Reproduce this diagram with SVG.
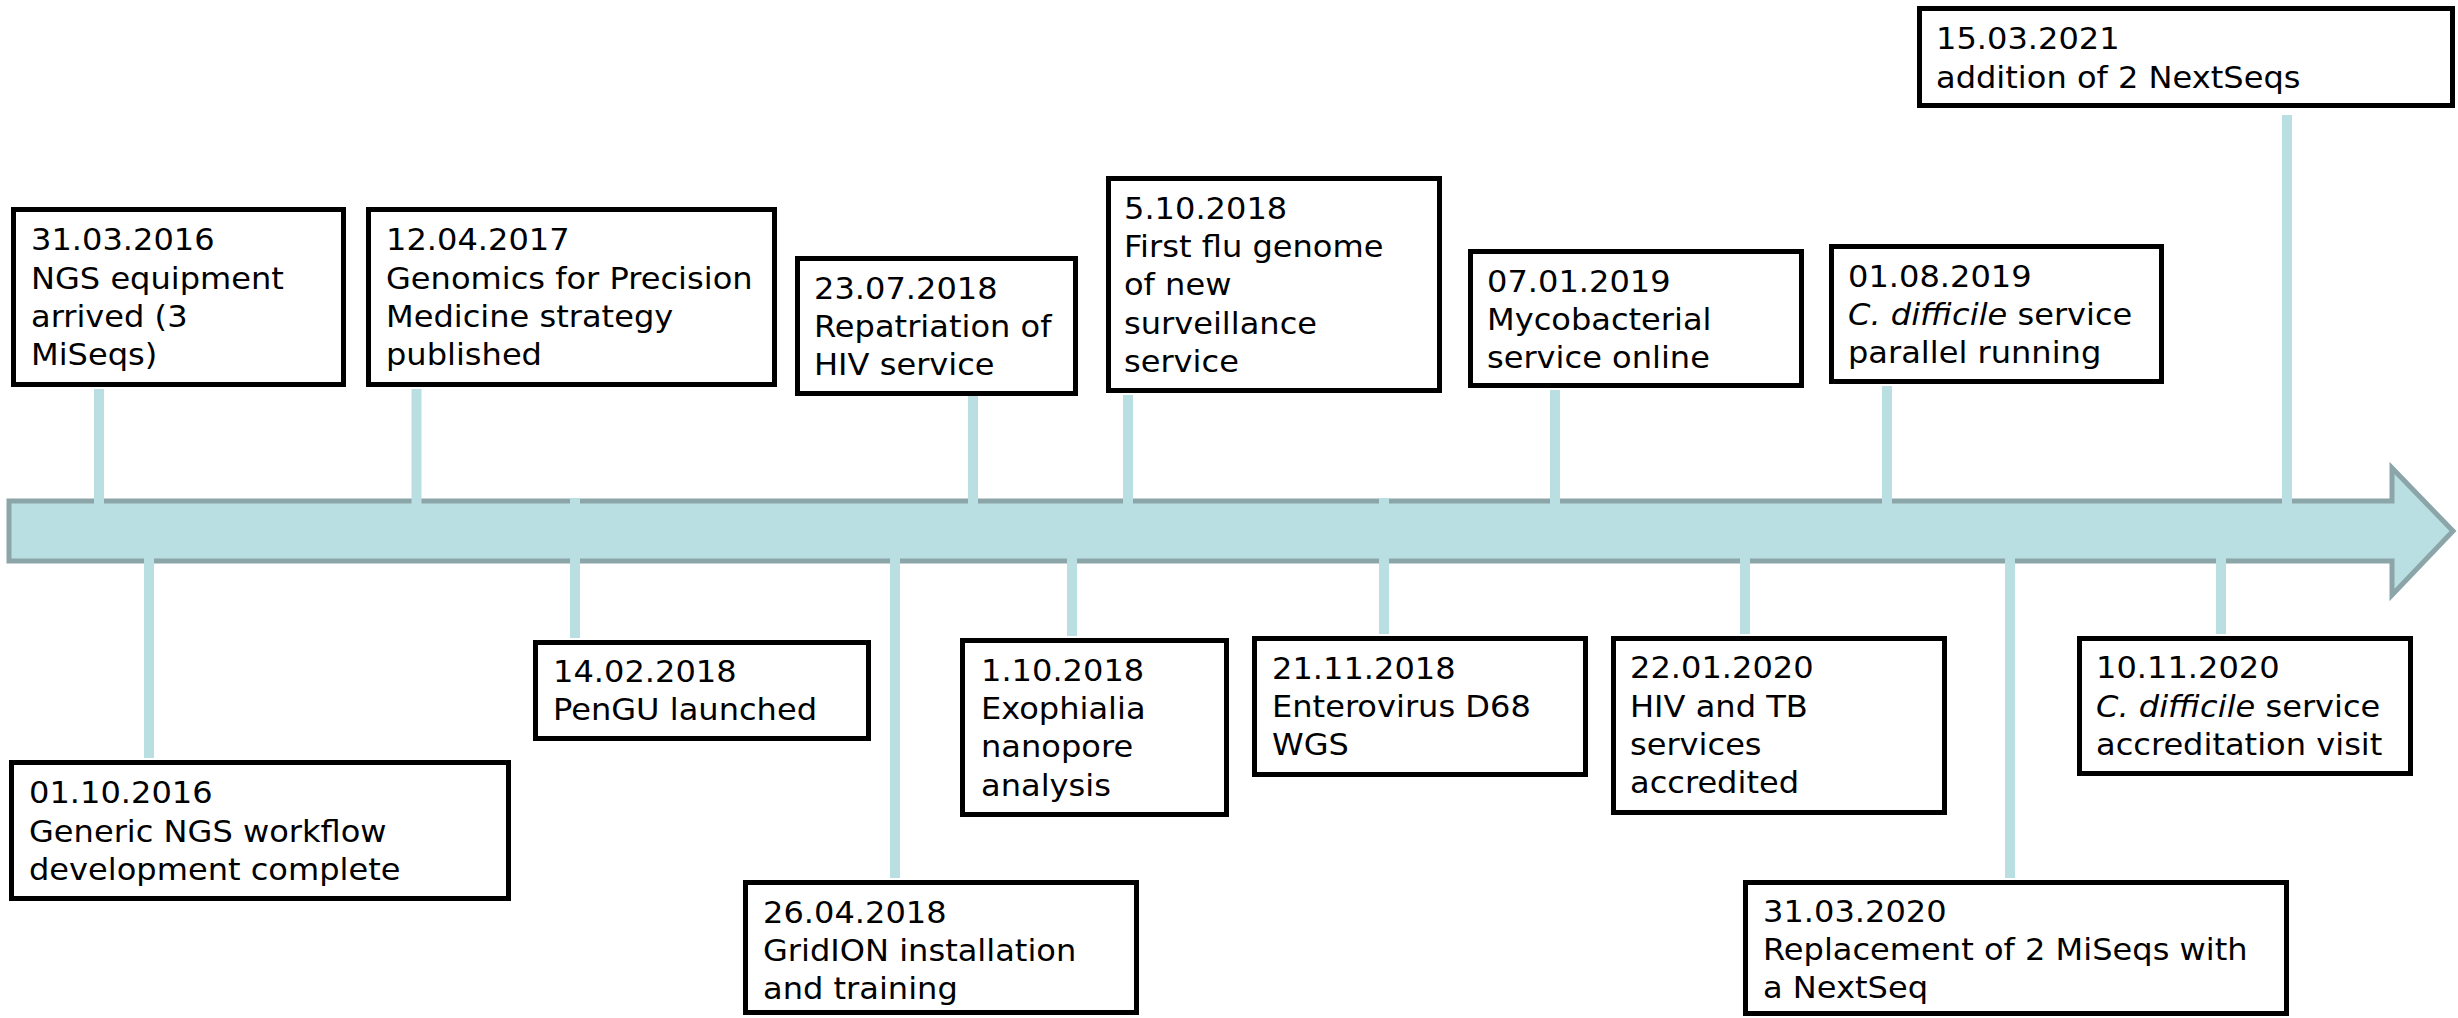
<svg xmlns="http://www.w3.org/2000/svg" width="2458" height="1018" viewBox="0 0 2458 1018">
<style>
.box{fill:#fff;stroke:#000;stroke-width:5}
.t{font-family:"DejaVu Sans",Verdana,sans-serif;font-size:31px;fill:#000}
.i{font-style:italic}
.c{stroke:#B9DFE2;stroke-width:10;fill:none}
.arrow{fill:#B9DFE2;stroke:#8BA5A8;stroke-width:5}
</style>
<rect width="2458" height="1018" fill="#fff"/>
<path class="arrow" d="M9,501 L2392,501 L2392,468 L2453,531 L2392,595 L2392,561 L9,561 Z"/>
<g id="connectors">
<line class="c" x1="99" y1="389" x2="99" y2="504"/>
<line class="c" x1="416.5" y1="389" x2="416.5" y2="504"/>
<line class="c" x1="973" y1="394" x2="973" y2="504"/>
<line class="c" x1="1128" y1="395" x2="1128" y2="504"/>
<line class="c" x1="1555" y1="390" x2="1555" y2="504"/>
<line class="c" x1="1887" y1="386" x2="1887" y2="504"/>
<line class="c" x1="2287" y1="115" x2="2287" y2="504"/>
<line class="c" x1="149" y1="557" x2="149" y2="758"/>
<line class="c" x1="575" y1="498" x2="575" y2="638"/>
<line class="c" x1="895" y1="557" x2="895" y2="878"/>
<line class="c" x1="1072" y1="557" x2="1072" y2="636"/>
<line class="c" x1="1384" y1="498" x2="1384" y2="634"/>
<line class="c" x1="1745" y1="557" x2="1745" y2="634"/>
<line class="c" x1="2010" y1="557" x2="2010" y2="878"/>
<line class="c" x1="2221" y1="557" x2="2221" y2="634"/>
</g>
<g id="n1"><rect class="box" x="13.5" y="209.5" width="330" height="175"/>
<text class="t" transform="translate(31,0) scale(1.035,1)" y="250.5"><tspan x="0">31.03.2016</tspan><tspan x="0" dy="38.2">NGS equipment</tspan><tspan x="0" dy="38.2">arrived (3</tspan><tspan x="0" dy="38.2">MiSeqs)</tspan></text></g>
<g id="n2"><rect class="box" x="368.5" y="209.5" width="406" height="175"/>
<text class="t" transform="translate(386,0) scale(1.035,1)" y="250.5"><tspan x="0">12.04.2017</tspan><tspan x="0" dy="38.2">Genomics for Precision</tspan><tspan x="0" dy="38.2">Medicine strategy</tspan><tspan x="0" dy="38.2">published</tspan></text></g>
<g id="n3"><rect class="box" x="797.5" y="258.5" width="278" height="135"/>
<text class="t" transform="translate(814,0) scale(1.035,1)" y="299"><tspan x="0">23.07.2018</tspan><tspan x="0" dy="38.2">Repatriation of</tspan><tspan x="0" dy="38.2">HIV service</tspan></text></g>
<g id="n4"><rect class="box" x="1108.5" y="178.5" width="331" height="212"/>
<text class="t" transform="translate(1124,0) scale(1.035,1)" y="219"><tspan x="0">5.10.2018</tspan><tspan x="0" dy="38.2">First flu genome</tspan><tspan x="0" dy="38.2">of new</tspan><tspan x="0" dy="38.2">surveillance</tspan><tspan x="0" dy="38.2">service</tspan></text></g>
<g id="n5"><rect class="box" x="1470.5" y="251.5" width="331" height="134"/>
<text class="t" transform="translate(1487,0) scale(1.035,1)" y="292"><tspan x="0">07.01.2019</tspan><tspan x="0" dy="38.2">Mycobacterial</tspan><tspan x="0" dy="38.2">service online</tspan></text></g>
<g id="n6"><rect class="box" x="1831.5" y="246.5" width="330" height="135"/>
<text class="t" transform="translate(1848,0) scale(1.035,1)" y="287"><tspan x="0">01.08.2019</tspan><tspan x="0" dy="38.2"><tspan class="i">C. difficile</tspan> service</tspan><tspan x="0" dy="38.2">parallel running</tspan></text></g>
<g id="n7"><rect class="box" x="1919.5" y="8.5" width="533" height="97"/>
<text class="t" transform="translate(1936,0) scale(1.035,1)" y="49.5"><tspan x="0">15.03.2021</tspan><tspan x="0" dy="38.2">addition of 2 NextSeqs</tspan></text></g>
<g id="n8"><rect class="box" x="11.5" y="762.5" width="497" height="136"/>
<text class="t" transform="translate(29,0) scale(1.035,1)" y="803.5"><tspan x="0">01.10.2016</tspan><tspan x="0" dy="38.2">Generic NGS workflow</tspan><tspan x="0" dy="38.2">development complete</tspan></text></g>
<g id="n9"><rect class="box" x="535.5" y="642.5" width="333" height="96"/>
<text class="t" transform="translate(553,0) scale(1.035,1)" y="682"><tspan x="0">14.02.2018</tspan><tspan x="0" dy="38.2">PenGU launched</tspan></text></g>
<g id="n10"><rect class="box" x="745.5" y="882.5" width="391" height="130"/>
<text class="t" transform="translate(763,0) scale(1.035,1)" y="923"><tspan x="0">26.04.2018</tspan><tspan x="0" dy="38.2">GridION installation</tspan><tspan x="0" dy="38.2">and training</tspan></text></g>
<g id="n11"><rect class="box" x="962.5" y="640.5" width="264" height="174"/>
<text class="t" transform="translate(981,0) scale(1.035,1)" y="681"><tspan x="0">1.10.2018</tspan><tspan x="0" dy="38.2">Exophialia</tspan><tspan x="0" dy="38.2">nanopore</tspan><tspan x="0" dy="38.2">analysis</tspan></text></g>
<g id="n12"><rect class="box" x="1254.5" y="638.5" width="331" height="136"/>
<text class="t" transform="translate(1272,0) scale(1.035,1)" y="679"><tspan x="0">21.11.2018</tspan><tspan x="0" dy="38.2">Enterovirus D68</tspan><tspan x="0" dy="38.2">WGS</tspan></text></g>
<g id="n13"><rect class="box" x="1613.5" y="638.5" width="331" height="174"/>
<text class="t" transform="translate(1630,0) scale(1.035,1)" y="678.5"><tspan x="0">22.01.2020</tspan><tspan x="0" dy="38.2">HIV and TB</tspan><tspan x="0" dy="38.2">services</tspan><tspan x="0" dy="38.2">accredited</tspan></text></g>
<g id="n14"><rect class="box" x="1745.5" y="882.5" width="541" height="131"/>
<text class="t" transform="translate(1763,0) scale(1.035,1)" y="922"><tspan x="0">31.03.2020</tspan><tspan x="0" dy="38.2">Replacement of 2 MiSeqs with</tspan><tspan x="0" dy="38.2">a NextSeq</tspan></text></g>
<g id="n15"><rect class="box" x="2079.5" y="638.5" width="331" height="135"/>
<text class="t" transform="translate(2096,0) scale(1.035,1)" y="678.5"><tspan x="0">10.11.2020</tspan><tspan x="0" dy="38.2"><tspan class="i">C. difficile</tspan> service</tspan><tspan x="0" dy="38.2">accreditation visit</tspan></text></g>
</svg>
